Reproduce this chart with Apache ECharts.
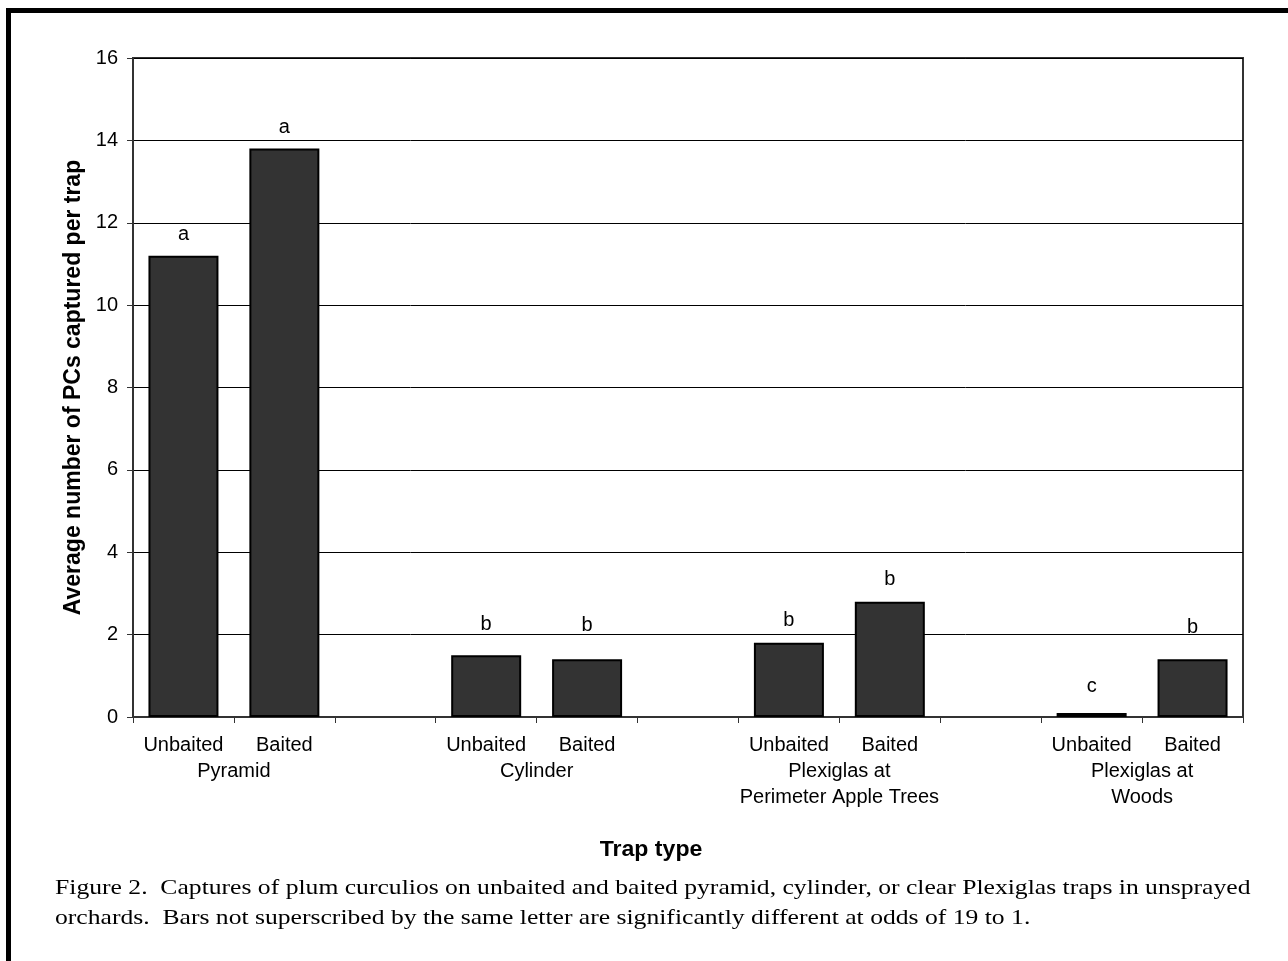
<!DOCTYPE html>
<html>
<head>
<meta charset="utf-8">
<script src="https://cdn.jsdelivr.net/npm/echarts@6/dist/echarts.min.js"></script>
<style>
  html, body { margin: 0; padding: 0; background: #fff; }
  #chart { width: 1288px; height: 961px; }
</style>
</head>
<body>
<div id="chart"></div>
<script>
// Trap positions along the x axis (empty strings are spacer slots between trap types)
const treatments = ['Unbaited', 'Baited', '', 'Unbaited', 'Baited', '', 'Unbaited', 'Baited', '', 'Unbaited', 'Baited'];
// Trap-type names, placed on the slot boundaries under each pair of bars
const trapTypes = ['', 'Pyramid', '', '', 'Cylinder', '', '', 'Plexiglas at\nPerimeter Apple Trees', '', '', 'Plexiglas at\nWoods', ''];
// Average number of plum curculios captured per trap
const captures = [11.2, 13.8, null, 1.5, 1.4, null, 1.8, 2.8, null, 0.1, 1.4];
// Significance letters written above the bars
const letters = ['a', 'a', '', 'b', 'b', '', 'b', 'b', '', 'c', 'b'];
// Y axis range
const yMin = 0, yMax = 16, yStep = 2;

const captionLines = [
  'Figure 2.  Captures of plum curculios on unbaited and baited pyramid, cylinder, or clear Plexiglas traps in unsprayed',
  'orchards.  Bars not superscribed by the same letter are significantly different at odds of 19 to 1.'
];

// Gap between each bar top and its letter
const letterGap = [11, 11, 0, 21, 24, 0, 12, 12, 0, 16, 22];

const sans = '"Liberation Sans", Arial, sans-serif';
const serif = '"Liberation Serif", "Times New Roman", serif';

const chart = echarts.init(document.getElementById('chart'), null, { renderer: 'canvas' });

chart.setOption({
  backgroundColor: '#ffffff',
  animation: false,
  grid: {
    left: 133, right: 45, top: 58, bottom: 244,
    show: true, borderColor: '#333', borderWidth: 2, backgroundColor: 'transparent'
  },
  xAxis: [
    {
      type: 'category',
      data: treatments,
      position: 'bottom',
      axisLine: { lineStyle: { color: '#333', width: 2 } },
      axisTick: { show: true, interval: 0, length: 6, lineStyle: { color: '#333', width: 1 } },
      axisLabel: { interval: 0, margin: 18, color: '#000', fontFamily: sans, fontSize: 20 },
      splitLine: { show: false }
    },
    {
      type: 'category',
      data: trapTypes,
      boundaryGap: false,
      position: 'bottom',
      offset: 0,
      axisLine: { show: false },
      axisTick: { show: false },
      axisLabel: { interval: 0, margin: 41, color: '#000', fontFamily: sans, fontSize: 20, lineHeight: 26 },
      splitLine: { show: false }
    }
  ],
  yAxis: {
    type: 'value',
    min: yMin, max: yMax, interval: yStep,
    name: 'Average number of PCs captured per trap',
    nameLocation: 'middle',
    nameGap: 48,
    nameTextStyle: { fontFamily: sans, fontSize: 23, fontWeight: 'bold', color: '#000' },
    axisLine: { show: true, lineStyle: { color: '#333', width: 2 } },
    axisTick: { show: true, length: 6, lineStyle: { color: '#333', width: 1 } },
    axisLabel: { margin: 15, color: '#000', fontFamily: sans, fontSize: 20 },
    splitLine: { show: true, lineStyle: { color: '#000', width: 1 } }
  },
  series: [{
    type: 'bar',
    xAxisIndex: 0,
    barWidth: 70,
    data: captures.map((v, i) => ({
      value: v,
      label: { distance: letterGap[i] }
    })),
    itemStyle: { color: '#333333', borderColor: '#000', borderWidth: 2 },
    label: {
      show: true,
      position: 'top',
      color: '#000',
      fontFamily: sans,
      fontSize: 20,
      formatter: p => letters[p.dataIndex]
    }
  }],
  graphic: [
    // Outer frame (top and left edges)
    { type: 'line', shape: { x1: 6, y1: 10.5, x2: 1288, y2: 10.5 }, style: { stroke: '#000', lineWidth: 5 } },
    { type: 'line', shape: { x1: 8.5, y1: 8, x2: 8.5, y2: 961 }, style: { stroke: '#000', lineWidth: 5 } },
    // X axis title
    {
      type: 'text', x: 651, y: 850, scaleX: 1.05,
      style: { text: 'Trap type', font: 'bold 22px ' + sans, fill: '#000',
               align: 'center', verticalAlign: 'middle' }
    },
    // Figure caption
    {
      type: 'text', x: 55, y: 888, scaleX: 1.165,
      style: { text: captionLines[0], font: '22px ' + serif, fill: '#000',
               align: 'left', verticalAlign: 'middle' }
    },
    {
      type: 'text', x: 55, y: 918, scaleX: 1.165,
      style: { text: captionLines[1], font: '22px ' + serif, fill: '#000',
               align: 'left', verticalAlign: 'middle' }
    }
  ]
});
</script>
</body>
</html>
